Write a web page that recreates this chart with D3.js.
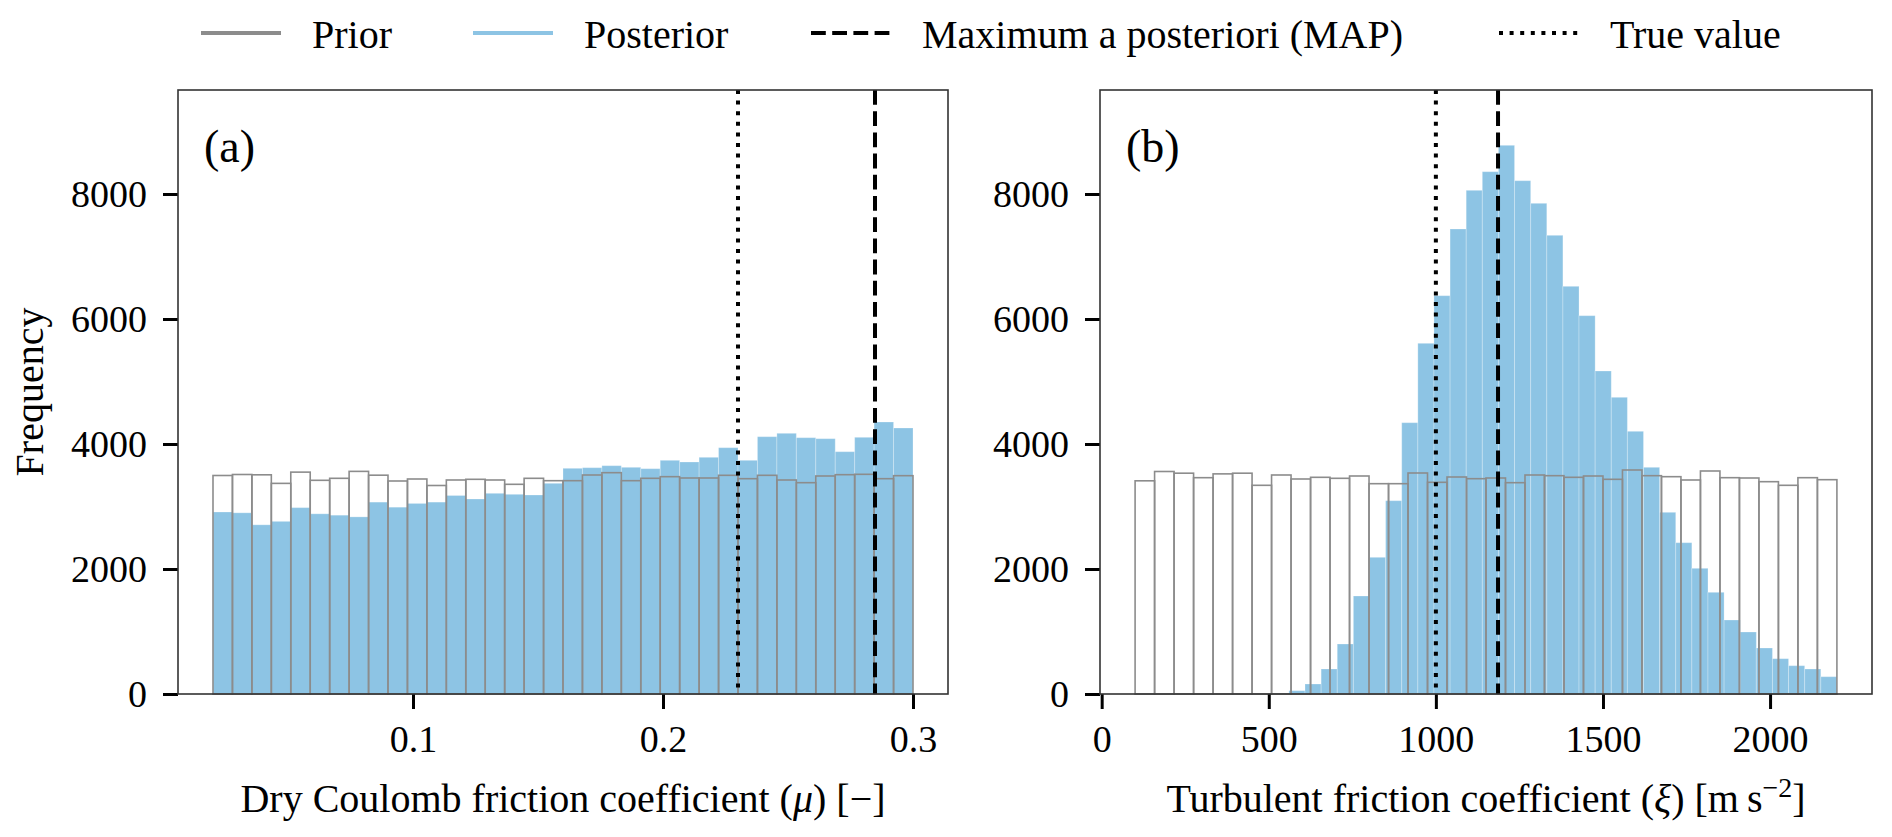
<!DOCTYPE html>
<html>
<head>
<meta charset="utf-8">
<script src="https://cdn.jsdelivr.net/npm/d3@7/dist/d3.min.js"></script>
<style>
  body { margin: 0; background: #fff; }
  text { font-family: "Liberation Serif", "DejaVu Serif", serif; fill: #000; }
</style>
</head>
<body>
<div id="chart"></div>
<script>
//****************************************************************************
//Data

// (a) dry Coulomb friction coefficient, 36 bins from 0.02 to 0.30
const muRange = [0.02, 0.30]
const muPrior = [3496, 3512, 3507, 3370, 3550, 3419, 3451, 3562, 3501, 3408, 3440, 3336,
  3424, 3435, 3424, 3355, 3451, 3413, 3413, 3504, 3541, 3413, 3451, 3477,
  3456, 3456, 3499, 3445, 3499, 3424, 3381, 3488, 3509, 3515, 3445, 3493]
const muPosterior = [2912, 2899, 2707, 2762, 2982, 2883, 2861, 2834, 3070, 2989, 3049, 3070,
  3176, 3120, 3211, 3195, 3184, 3371, 3611, 3621, 3653, 3627, 3605, 3739,
  3712, 3787, 3941, 3739, 4117, 4171, 4101, 4085, 3877, 4107, 4352, 4256]
const muMAP = 0.2848
const muTrue = 0.23

// (b) turbulent friction coefficient, prior 36 bins 100..2200, posterior 35 bins 512..2200
const xiPriorRange = [100, 2200]
const xiPrior = [3411, 3560, 3533, 3461, 3522, 3533, 3339, 3504, 3440, 3467, 3451, 3488,
  3365, 3365, 3536, 3387, 3472, 3445, 3456, 3381, 3504, 3493, 3467, 3488,
  3435, 3584, 3493, 3477, 3424, 3568, 3461, 3456, 3397, 3339, 3461, 3429]
const xiPostRange = [512, 2200]
const xiPosterior = [10, 53, 160, 400, 800, 1568, 2187, 3093, 4341, 5611, 6373, 7440,
  8059, 8357, 8779, 8213, 7851, 7339, 6523, 6053, 5168, 4747, 4203, 3627,
  2907, 2421, 2011, 1627, 1184, 992, 736, 565, 453, 400, 277]
const xiMAP = 1186
const xiTrue = 1000

// ticks
const freqTicks = [0, 2000, 4000, 6000, 8000]
const muTicks = [0.1, 0.2, 0.3]
const xiTicks = [0, 500, 1000, 1500, 2000]

const legendLabels = ["Prior", "Posterior", "Maximum a posteriori (MAP)", "True value"]

//****************************************************************************
//Canvas

const canvWidth = 1892
const canvHeight = 837
const fontSize = 38      // tick labels
const labelSize = 40     // axis labels + legend

const priorColor = "#8c8c8c"
const postColor = "#8dc4e4"

const svg = d3.select("#chart").append("svg")
  .attr("width", canvWidth)
  .attr("height", canvHeight)

const yScale = d3.scaleLinear().domain([0, 9664]).range([694, 90])

//turn a list of counts into bins between lo and hi
const toBins = (counts, range) => {
  const step = (range[1] - range[0]) / counts.length
  return counts.map((n, i) => ({ x0: range[0] + i * step, x1: range[0] + (i + 1) * step, n: n }))
}

//****************************************************************************
//Panel

const drawPanel = (p) => {
  const g = svg.append("g").attr("id", p.id)
  const x = d3.scaleLinear().domain(p.xDomain).range(p.xRange)
  const [top, bottom] = [yScale.range()[1], yScale.range()[0]]

  //posterior bars
  g.append("g").selectAll("rect")
    .data(p.posterior)
    .enter().append("rect")
    .attr("x", d => x(d.x0))
    .attr("y", d => yScale(d.n))
    .attr("width", d => x(d.x1) - x(d.x0))
    .attr("height", d => yScale(0) - yScale(d.n))
    .style("fill", postColor)
    .style("stroke", "rgba(255,255,255,0.25)")
    .style("stroke-width", 1)

  //prior bars (outline only, on top)
  g.append("g").selectAll("rect")
    .data(p.prior)
    .enter().append("rect")
    .attr("x", d => x(d.x0))
    .attr("y", d => yScale(d.n))
    .attr("width", d => x(d.x1) - x(d.x0))
    .attr("height", d => yScale(0) - yScale(d.n))
    .style("fill", "none")
    .style("stroke", priorColor)
    .style("stroke-width", 1.6)

  //true value + MAP
  g.append("line")
    .attr("x1", x(p.trueVal)).attr("x2", x(p.trueVal))
    .attr("y1", top).attr("y2", bottom)
    .style("stroke", "#000").style("stroke-width", 4)
    .style("stroke-dasharray", "4,6.6")
  g.append("line")
    .attr("x1", x(p.map)).attr("x2", x(p.map))
    .attr("y1", top).attr("y2", bottom)
    .style("stroke", "#000").style("stroke-width", 4)
    .style("stroke-dasharray", "14.8,6.4")

  //axes
  const xAxis = d3.axisBottom(x).tickValues(p.xTicks).tickSize(15).tickPadding(16)
    .tickFormat(p.xFormat)
  g.append("g")
    .attr("transform", `translate(0,${bottom})`)
    .call(xAxis)
    .call(a => a.select(".domain").remove())

  const yAxis = d3.axisLeft(yScale).tickValues(freqTicks).tickSize(15).tickPadding(16)
    .tickFormat(d3.format("d"))
  g.append("g")
    .attr("transform", `translate(${p.xRange[0]},0)`)
    .call(yAxis)
    .call(a => a.select(".domain").remove())

  g.selectAll(".tick line").style("stroke", "#000").style("stroke-width", 3)
  g.selectAll(".tick text")
    .style("font-family", '"Liberation Serif", serif')
    .style("font-size", fontSize + "px")

  //spines
  g.append("rect")
    .attr("x", p.xRange[0]).attr("y", top)
    .attr("width", p.xRange[1] - p.xRange[0])
    .attr("height", bottom - top)
    .style("fill", "none").style("stroke", "#333").style("stroke-width", 1.6)

  //panel letter
  g.append("text")
    .attr("x", p.xRange[0] + 26)
    .attr("y", 162)
    .style("font-size", "46px")
    .text(p.letter)

  //x label
  const lab = g.append("text")
    .attr("x", (p.xRange[0] + p.xRange[1]) / 2)
    .attr("y", 812)
    .style("text-anchor", "middle")
    .style("font-size", labelSize + "px")
  p.xLabel(lab)

  return g
}

//****************************************************************************
//Panels

drawPanel({
  id: "panel-a", letter: "(a)",
  xDomain: [0.006, 0.314], xRange: [178, 948],
  xTicks: muTicks, xFormat: d => String(d),
  prior: toBins(muPrior, muRange),
  posterior: toBins(muPosterior, muRange),
  map: muMAP, trueVal: muTrue,
  xLabel: t => {
    t.append("tspan").text("Dry Coulomb friction coefficient (")
    t.append("tspan").style("font-style", "italic").text("μ")
    t.append("tspan").text(") [\u2212]")
  }
})

drawPanel({
  id: "panel-b", letter: "(b)",
  xDomain: [-5, 2305], xRange: [1100, 1872],
  xTicks: xiTicks, xFormat: d3.format("d"),
  prior: toBins(xiPrior, xiPriorRange),
  posterior: toBins(xiPosterior, xiPostRange),
  map: xiMAP, trueVal: xiTrue,
  xLabel: t => {
    t.append("tspan").text("Turbulent friction coefficient (")
    t.append("tspan").style("font-style", "italic").text("ξ")
    t.append("tspan").text(") [m\u2009s")
    t.append("tspan").attr("dy", -15).style("font-size", "28px").text("\u22122")
    t.append("tspan").attr("dy", 15).text("]")
  }
})

//y label
svg.append("text")
  .attr("transform", "translate(43,392) rotate(-90)")
  .style("text-anchor", "middle")
  .style("font-size", labelSize + "px")
  .text("Frequency")

//****************************************************************************
//Legend

const legendStyles = [
  { color: priorColor, dash: null, x: 201 },
  { color: postColor, dash: null, x: 473 },
  { color: "#000", dash: "14.8,6.4", x: 811 },
  { color: "#000", dash: "4,6.6", x: 1499 }
]

const gLegend = svg.append("g").attr("id", "legend")
legendLabels.forEach((label, i) => {
  const item = gLegend.append("g").attr("transform", `translate(${legendStyles[i].x},0)`)
  item.append("line")
    .attr("x1", 0).attr("x2", 80)
    .attr("y1", 33).attr("y2", 33)
    .style("stroke", legendStyles[i].color)
    .style("stroke-width", 4)
    .style("stroke-dasharray", legendStyles[i].dash)
  item.append("text")
    .attr("x", 111).attr("y", 48)
    .style("font-size", labelSize + "px")
    .text(label)
})
</script>
</body>
</html>
